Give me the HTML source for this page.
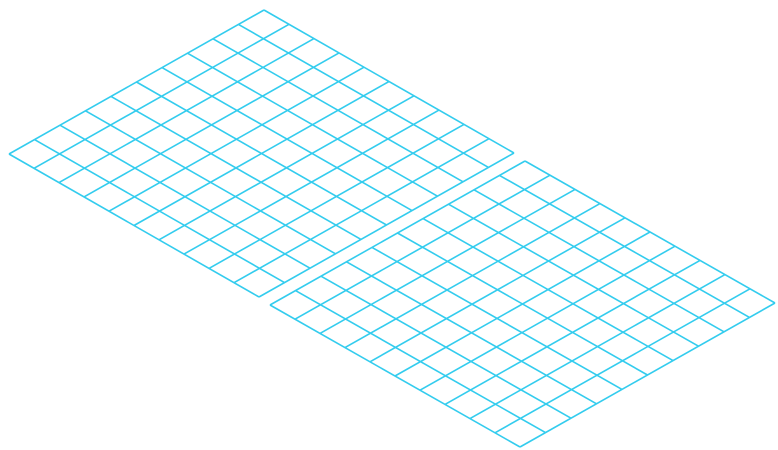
<!DOCTYPE html>
<html><head><meta charset="utf-8"><style>
html,body{margin:0;padding:0;background:#fff;width:778px;height:450px;overflow:hidden}
</style></head><body>
<svg id="chart" width="778" height="450" viewBox="0 0 778 450" xmlns="http://www.w3.org/2000/svg"></svg>
<script>
const gridNames = ["grid-upper-left", "grid-lower-right"];
const gridRows = [10, 10];
const gridCols = [10, 10];
const layout = [
  {top:[264,10], left:[9,154], right:[514,153]},
  {top:[525,161], left:[270,305], right:[775,303]}
];
const svg = document.getElementById('chart');
const NS = 'http://www.w3.org/2000/svg';
gridNames.forEach((name, g) => {
  const L = layout[g];
  const a = [(L.left[0]-L.top[0])/gridRows[g], (L.left[1]-L.top[1])/gridRows[g]];
  const b = [(L.right[0]-L.top[0])/gridCols[g], (L.right[1]-L.top[1])/gridCols[g]];
  const grp = document.createElementNS(NS, 'g');
  
  
  grp.setAttribute('stroke', '#33ccee');
  grp.setAttribute('stroke-width', '1.6');
  grp.setAttribute('fill', 'none');
  const pt = (i, j) => [L.top[0] + a[0]*i + b[0]*j, L.top[1] + a[1]*i + b[1]*j];
  for (let i = 0; i <= gridRows[g]; i++) {
    const p = pt(i, 0), q = pt(i, gridCols[g]);
    const ln = document.createElementNS(NS, 'line');
    
    
    ln.setAttribute('x1', p[0]); ln.setAttribute('y1', p[1]);
    ln.setAttribute('x2', q[0]); ln.setAttribute('y2', q[1]);
    grp.appendChild(ln);
  }
  for (let j = 0; j <= gridCols[g]; j++) {
    const p = pt(0, j), q = pt(gridRows[g], j);
    const ln = document.createElementNS(NS, 'line');
    
    
    ln.setAttribute('x1', p[0]); ln.setAttribute('y1', p[1]);
    ln.setAttribute('x2', q[0]); ln.setAttribute('y2', q[1]);
    grp.appendChild(ln);
  }
  svg.appendChild(grp);
});
</script>
</body></html>
